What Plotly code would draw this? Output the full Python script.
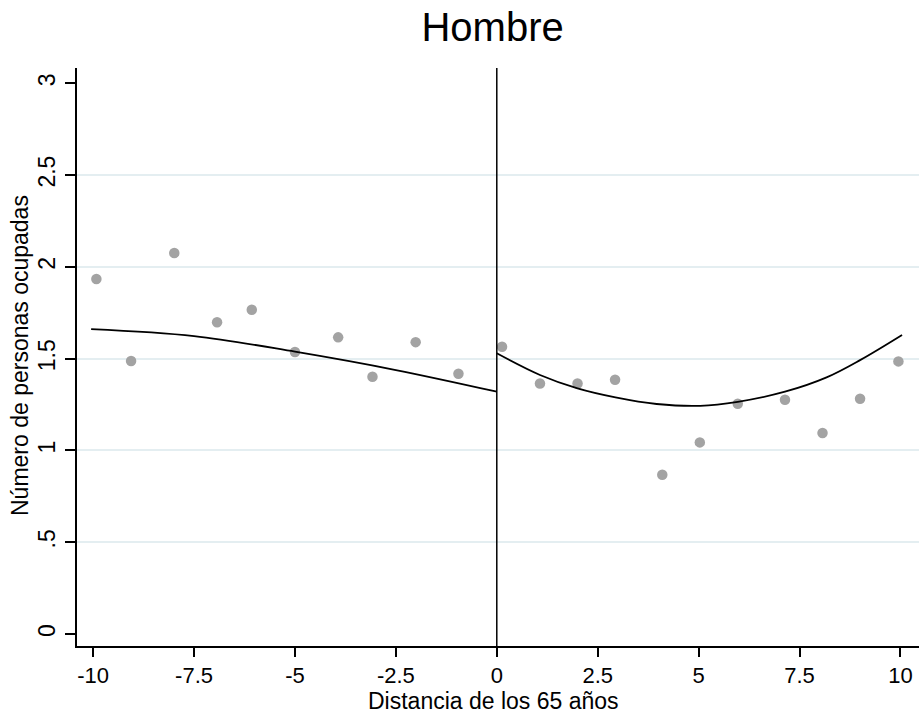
import plotly.graph_objects as go

# Binned means (points)
left_x = [-9.92, -9.06, -7.99, -6.93, -6.07, -5.00, -3.93, -3.08, -2.01, -0.95]
left_y = [1.934, 1.487, 2.075, 1.698, 1.766, 1.536, 1.616, 1.401, 1.590, 1.418]
right_x = [0.13, 1.07, 2.00, 2.93, 4.10, 5.03, 5.97, 7.14, 8.07, 9.00, 9.95]
right_y = [1.565, 1.365, 1.365, 1.385, 0.868, 1.044, 1.254, 1.276, 1.095, 1.282, 1.485]

# Fitted curves
fit_left_x = [-10.05, -7.5, -5.0, -2.5, 0.0]
fit_left_y = [1.661, 1.623, 1.538, 1.438, 1.320]
fit_right_x = [0.0, 1.07, 2.0, 2.94, 3.96, 5.04, 5.97, 7.14, 8.17, 9.0, 10.04]
fit_right_y = [1.529, 1.411, 1.338, 1.289, 1.253, 1.243, 1.265, 1.320, 1.398, 1.492, 1.629]

x_ticks = [-10, -7.5, -5, -2.5, 0, 2.5, 5, 7.5, 10]
x_tick_labels = ["-10", "-7.5", "-5", "-2.5", "0", "2.5", "5", "7.5", "10"]
y_ticks = [0, 0.5, 1, 1.5, 2, 2.5, 3]
y_tick_labels = ["0", ".5", "1", "1.5", "2", "2.5", "3"]
y_grid = [0.5, 1, 1.5, 2, 2.5]

FONT = "Arial, Liberation Sans, sans-serif"
PT_COLOR = "#a3a3a3"

fig = go.Figure()
for xs, ys in [(left_x, left_y), (right_x, right_y)]:
    fig.add_trace(go.Scatter(x=xs, y=ys, mode="markers",
                             marker=dict(color=PT_COLOR, size=10.5, line=dict(width=0)),
                             showlegend=False, hoverinfo="skip"))
for xs, ys in [(fit_left_x, fit_left_y), (fit_right_x, fit_right_y)]:
    fig.add_trace(go.Scatter(x=xs, y=ys, mode="lines",
                             line=dict(color="black", width=1.8, shape="spline", smoothing=1.0),
                             showlegend=False, hoverinfo="skip"))

fig.add_vline(x=0, line=dict(color="black", width=1.5))

fig.update_layout(
    width=919, height=714,
    margin=dict(l=77, r=0, t=68, b=68),
    paper_bgcolor="white", plot_bgcolor="white",
    font=dict(family=FONT, color="black"),
    title=dict(text="Hombre", x=0.536, xanchor="center", y=0.962, yanchor="middle",
               font=dict(size=40, family=FONT, color="black")),
    xaxis=dict(range=[-10.4, 10.46], tickvals=x_ticks, ticktext=x_tick_labels,
               automargin=False,
               showgrid=False, zeroline=False, showline=True, linecolor="black", linewidth=1.5,
               ticks="outside", ticklen=9, tickwidth=1.5, tickcolor="black",
               tickfont=dict(size=22, family=FONT, color="black")),
    yaxis=dict(range=[-0.065, 3.083], tickvals=y_ticks, ticktext=y_tick_labels,
               automargin=False,
               tickangle=-90, showgrid=False, zeroline=False,
               showline=True, linecolor="black", linewidth=1.5,
               ticks="outside", ticklen=10, tickwidth=1.5, tickcolor="black",
               ticklabelstandoff=1,
               tickfont=dict(size=23, family=FONT, color="black"),
               minor=dict(tickvals=y_grid, showgrid=True, gridcolor="#e4eef1", gridwidth=1.5, ticks="")),
)

fig.add_annotation(text="Distancia de los 65 años", xref="paper", yref="paper",
                   x=0.495, y=-0.095, xanchor="center", yanchor="middle", showarrow=False,
                   font=dict(size=23, family=FONT, color="black"))
fig.add_annotation(text="Número de personas ocupadas", xref="paper", yref="paper",
                   x=-0.0675, y=0.502, xanchor="center", yanchor="middle", showarrow=False,
                   textangle=-90, font=dict(size=23, family=FONT, color="black"))

fig.write_html("out.html", config={"displayModeBar": False},
               post_script="document.body.style.margin='0';")
